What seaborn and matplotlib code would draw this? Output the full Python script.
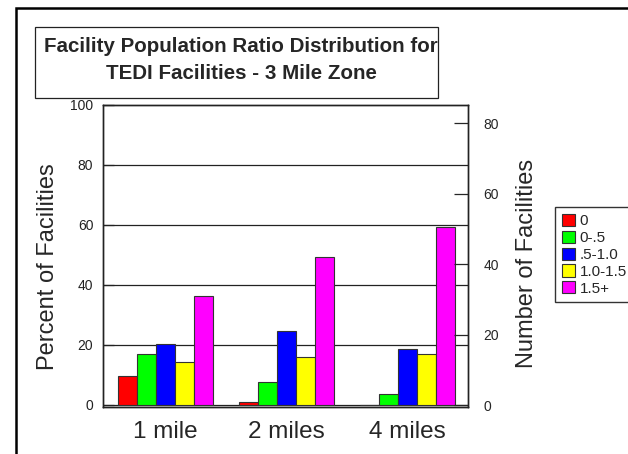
import matplotlib
matplotlib.use("Agg")
import matplotlib.pyplot as plt
from matplotlib.patches import Rectangle, Patch
import seaborn as sns
import pandas as pd

# ---- data ----
distances = ["1 mile", "2 miles", "4 miles"]
ratio_classes = ["0", "0-.5", ".5-1.0", "1.0-1.5", "1.5+"]
pct_0 = [9.7, 0.9, 0.0]
pct_0_05 = [16.9, 7.8, 3.6]
pct_05_10 = [20.3, 24.8, 18.7]
pct_10_15 = [14.4, 16.1, 16.9]
pct_15p = [36.3, 49.2, 59.4]
colors = ["#FF0000", "#00FF00", "#0000FF", "#FFFF00", "#FF00FF"]

series = [pct_0, pct_0_05, pct_05_10, pct_10_15, pct_15p]
rows = []
for cls, vals in zip(ratio_classes, series):
    for d, v in zip(distances, vals):
        rows.append({"distance": d, "ratio": cls, "pct": v})
df = pd.DataFrame(rows)

sns.set_style("white")
plt.rcParams["font.family"] = ["Liberation Sans", "DejaVu Sans"]

W, H = 628, 454
fig = plt.figure(figsize=(W / 100, H / 100), dpi=100)

def fx(px):
    return px / W

def fy(py):
    return (H - py) / H

ax = fig.add_axes([fx(103), fy(407.3), fx(468) - fx(103), fy(105) - fy(407.3)])

sns.barplot(data=df, x="distance", y="pct", hue="ratio", hue_order=ratio_classes,
            order=distances, palette=colors, width=0.785, ax=ax,
            edgecolor="#333333", linewidth=0.8, legend=False, saturation=1)

ax.set_axisbelow(False)
ax.set_xlim(-0.518, 2.498)
ax.set_ylim(-0.77, 100)
ax.set_yticks([0, 20, 40, 60, 80, 100])
ax.set_yticklabels(["0", "20", "40", "60", "80", "100"], fontsize=10)
for yv in [0, 20, 40, 60, 80]:
    ax.axhline(yv, color="#222222", lw=0.9, zorder=0.5)
ax.tick_params(axis="y", direction="in", length=8, width=0.9, pad=7, colors="#222222", labelcolor="#222222")
ax.tick_params(axis="x", direction="in", length=10, width=0.9, pad=10, labelsize=17.5, color="#222222")
ax.set_xlabel("")
ax.set_ylabel("Percent of Facilities", fontsize=17, labelpad=8)
ax.yaxis.label.set_y(0.467)
for s in ax.spines.values():
    s.set_visible(True)
    s.set_color("#222222")
    s.set_linewidth(1.0)

ax2 = ax.twinx()
ax2.set_ylim(-0.65, 85.2)
ax2.set_yticks([0, 20, 40, 60, 80])
ax2.set_yticklabels(["0", "20", "40", "60", "80"], fontsize=10)
ax2.tick_params(axis="y", direction="in", length=10, width=0.9, pad=11)
ax2.set_ylabel("Number of Facilities", fontsize=17, labelpad=12)
ax2.yaxis.label.set_y(0.477)
for s in ax2.spines.values():
    s.set_color("#222222")
    s.set_linewidth(1.0)

# legend
handles = [Patch(facecolor=c, edgecolor="#333333", linewidth=0.8) for c in colors]
fig.legend(handles, ratio_classes, loc="upper left", bbox_to_anchor=(fx(555), fy(207)),
           bbox_transform=fig.transFigure, frameon=True, fancybox=False, edgecolor="black",
           fontsize=11, handlelength=0.85, handleheight=0.85, handletextpad=0.3,
           labelspacing=0.16, borderpad=0.45, borderaxespad=0)

# title box
fig.patches.append(Rectangle((fx(35), fy(98)), fx(438) - fx(35), fy(27) - fy(98),
                             transform=fig.transFigure, fill=False, edgecolor="#222222", lw=0.9))
fig.text(fx(241), fy(52), "Facility Population Ratio Distribution for", ha="center",
         va="baseline", fontsize=14.8, fontweight="bold")
fig.text(fx(241), fy(79), "TEDI Facilities - 3 Mile Zone", ha="center",
         va="baseline", fontsize=14.8, fontweight="bold")

# outer frame
fig.patches.append(Rectangle((fx(16), fy(470)), fx(660) - fx(16), fy(8) - fy(470),
                             transform=fig.transFigure, fill=False, edgecolor="black", lw=1.8))

fig.savefig("out.png", dpi=100)
